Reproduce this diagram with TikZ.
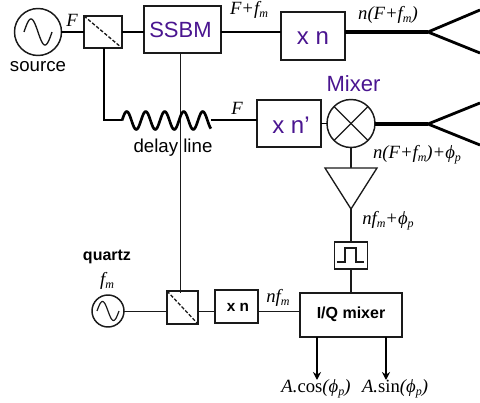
\documentclass[tikz,border=0pt]{standalone}
\usepackage{fontspec}
\setmainfont{Liberation Sans}
\newfontfamily\serf{Liberation Serif}
\usetikzlibrary{arrows.meta}
\definecolor{vio}{HTML}{4A1590}
\definecolor{ink}{HTML}{1A1A1A}
\newcommand{\dn}[1]{\raisebox{-2.4pt}{\fontsize{9}{10}\selectfont #1}}
\tikzset{
  x=0.75pt,y=-0.75pt,
  blk/.style={draw=ink,line width=1.1pt,fill=white,inner sep=0,outer sep=0},
  thin line/.style={draw=ink,line width=0.7pt},
  mid line/.style={draw=black,line width=1.5pt},
  fat line/.style={draw=black,line width=3pt},
  fork/.style={draw=black,line width=2.1pt},
  vlabel/.style={text=vio,font=\fontsize{16.5}{18}\selectfont,inner sep=0},
  vbig/.style={text=vio,font=\fontsize{18}{20}\selectfont,inner sep=0},
  txt/.style={font=\fontsize{14}{16}\selectfont,inner sep=0},
  btxt/.style={font=\fontsize{12}{14}\selectfont\bfseries,inner sep=0},
  mth/.style={font=\serf\itshape\fontsize{14}{16}\selectfont,inner sep=0},
  sinewave/.style={draw=ink,line width=1pt,line join=round},
  splitline/.style={draw=ink,line width=1pt,dash pattern=on 2.6pt off 1.4pt},
}
\begin{document}
\begin{tikzpicture}
\useasboundingbox (0,0) rectangle (480,403);
\coordinate (w1) at (122,120.5);
\coordinate (w2) at (211,120.5);
\coordinate (f1) at (428,32);
\coordinate (f1a) at (480,10);
\coordinate (f1b) at (480,53);
\coordinate (f2) at (428,124);
\coordinate (f2a) at (480,103);
\coordinate (f2b) at (480,145);

\node[blk,circle,minimum size=35.25pt] (src) at (38,32) {};
\node[blk,minimum width=28.5pt,minimum height=24pt] (sp1) at (103,32) {};
\node[blk,minimum width=57.75pt,minimum height=35.25pt,vlabel,draw=ink,line width=1.1pt,fill=white] (ssbm) at (182.5,29.5) {\hspace{-3pt}SSBM};
\node[blk,minimum width=48pt,minimum height=36pt] (xn) at (313,36) {};
\node[vbig] (xnt) at (313,38) {x n};
\node[blk,minimum width=48pt,minimum height=35.25pt] (xnp) at (289,123.5) {};
\node[vbig] (xnpt) at (291,125) {x n'};
\node[blk,circle,minimum size=36pt] (mix) at (351,123.5) {};
\node[vlabel] (mixt) at (353.5,84) {Mixer};
\node[blk,minimum width=23.25pt,minimum height=24.75pt] (sp2) at (182.5,307.5) {};
\node[blk,circle,minimum size=24pt] (qz) at (108,311) {};
\node[blk,minimum width=32.25pt,minimum height=24.75pt] (xs) at (236.5,306.5) {};
\node[btxt,font=\fontsize{11.5}{13}\selectfont\bfseries] (xst) at (238,307) {x n};
\node[blk,minimum width=76.5pt,minimum height=33pt] (iq) at (351,315) {};
\node[btxt] (iqt) at (351,314) {I/Q mixer};
\node[blk,minimum width=24.75pt,minimum height=20.25pt] (pf) at (351,255.5) {};
\coordinate (tl) at (325,168);
\coordinate (tr) at (377,168);
\coordinate (tb) at (351,209);
\coordinate (tt) at (351,168);
\coordinate (ca) at (317,380);
\coordinate (sa) at (386,380);
\coordinate (cb) at (317,337);
\coordinate (sb) at (386,337);

\draw[mid line] (src.east) -- (sp1.west);
\draw[mid line] (sp1.east) -- (ssbm.west |- sp1.east);
\draw[mid line] (ssbm.east |- sp1.east) -- (xn.west |- sp1.east);
\draw[mid line] (sp1.south) ++(1,0) |- (w1);
\draw[mid line] (w2) -- (xnp.west |- w2);
\draw[thin line] (180,53) -- (180,293);
\draw[line width=2pt,draw=black,line join=round]
  plot[domain=0:4.68,samples=90,smooth] ({122+19*\x},{120.5-9*sin(360*\x)});
\draw[fat line] (xn.east |- f1) -- (f1);
\draw[fat line] (mix.east |- f2) -- (f2);
\draw[fork,line join=miter] (f1a) -- (f1) -- (f1b);
\draw[fork,line join=miter] (f2a) -- (f2) -- (f2b);
\draw[mid line,line width=1.1pt] (xnp.east |- mix.west) -- (mix.west);
\draw[thin line] (qz.east) -- (sp2.west |- qz.east);
\draw[thin line] (sp2.east |- qz.east) -- (xs.west |- qz.east);
\draw[thin line] (xs.east |- qz.east) -- (iq.west |- qz.east);
\draw[draw=ink,line width=1.1pt] (mix.south) -- (tt);
\draw[draw=ink,line width=1.1pt] (tb) -- (pf.north);
\draw[draw=ink,line width=1.1pt] (pf.south) -- (iq.north);
\draw[draw=black,line width=1.1pt,-{Stealth[length=6pt,width=6pt]}] (cb) -- (ca);
\draw[draw=black,line width=1.1pt,-{Stealth[length=6pt,width=6pt]}] (sb) -- (sa);
% symbols in the blocks
\draw[draw=ink,line width=1pt,fill=white,line join=miter] (tl) -- (tr) -- (tb) -- cycle;
\draw[sinewave] plot[domain=0:1,samples=50,smooth] ({38+(\x-0.5)*28},{32-13*sin(360*\x)});
\draw[sinewave,line width=.9pt] plot[domain=0:1,samples=50,smooth] ({108+(\x-0.5)*22},{311-9.5*sin(360*\x)});
\draw[splitline] (sp1.north west) -- (sp1.south east);
\draw[splitline] (sp2.north west) -- (sp2.south east);
\draw[ink,line width=1pt] (mix.north west) -- (mix.south east);
\draw[ink,line width=1pt] (mix.north east) -- (mix.south west);
\draw[ink,line width=1pt] (337,262) -- (345,262) -- (345,248) -- (356,248) -- (356,262) -- (364,262);
% texts
\node[txt] (l1) at (38,67) {source};
\node[txt] (l2) at (173,148) {delay line};
\node[btxt] (l3) at (107,257) {quartz};
\node[mth] (m1) at (72,20) {F};
\node[mth] (m2) at (249,10) {F+f\dn{m}};
\node[mth] (m3) at (388,15) {n(F+f\dn{m})};
\node[mth] (m4) at (237,108) {F};
\node[mth] (m5) at (417,155) {n(F+f\dn{m})+ϕ\dn{p}};
\node[mth] (m6) at (388,221) {nf\dn{m}+ϕ\dn{p}};
\node[mth] (m7) at (107,281) {f\dn{m}};
\node[mth] (m8) at (278,298) {nf\dn{m}};
\node[mth] (m9) at (316,389) {A.{\upshape cos}(ϕ\dn{p})};
\node[mth] (m10) at (395,389) {A.{\upshape sin}(ϕ\dn{p})};
\end{tikzpicture}
\end{document}
